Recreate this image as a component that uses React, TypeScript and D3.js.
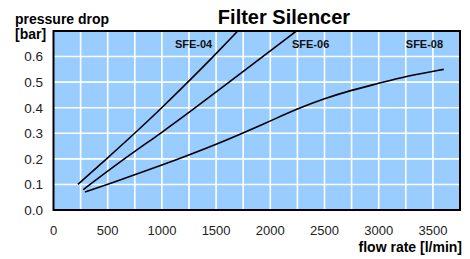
import React, { useEffect, useRef } from 'react';
import * as d3 from 'd3';

// flow rate [l/min] vs pressure drop [bar]
const sfe04: [number, number][] = [[225, 0.1], [490, 0.2], [750, 0.3], [1000, 0.4], [1240, 0.5], [1474, 0.6], [1700, 0.7]];
const sfe06: [number, number][] = [[275, 0.08], [650, 0.2], [990, 0.3], [1310, 0.4], [1620, 0.5], [1930, 0.6], [2240, 0.7]];
const sfe08: [number, number][] = [[290, 0.07], [500, 0.1], [1000, 0.175], [1500, 0.255], [2000, 0.348], [2250, 0.396], [2500, 0.436], [2750, 0.469], [3000, 0.495], [3250, 0.523], [3600, 0.55]];

const seriesNames = ['SFE-04', 'SFE-06', 'SFE-08'];
const labelPos: [number, number][] = [[1120, 0.635], [2200, 0.635], [3250, 0.635]];
const xTicks = [0, 500, 1000, 1500, 2000, 2500, 3000, 3500];
const yTicks = [0, 0.1, 0.2, 0.3, 0.4, 0.5, 0.6];

const App: React.FC = () => {
  const svgRef = useRef<SVGSVGElement>(null);

  useEffect(() => {
    if (!svgRef.current) return;
    const svg = d3.select(svgRef.current);
    svg.selectAll("*").remove();

    const x = d3.scaleLinear().domain([0, 3750]).range([53.5, 460]);
    const y = d3.scaleLinear().domain([0, 0.7]).range([210, 31]);
    const font = "Liberation Sans, Arial, Helvetica, sans-serif";

    svg.append("rect")
      .attr("x", x(0)).attr("y", y(0.7))
      .attr("width", x(3750) - x(0)).attr("height", y(0) - y(0.7))
      .attr("fill", "#99ccff");

    // grid
    svg.append("g").selectAll("line")
      .data(d3.range(250, 3750, 250))
      .enter().append("line")
      .attr("x1", d => x(d)).attr("x2", d => x(d))
      .attr("y1", y(0)).attr("y2", y(0.7))
      .attr("stroke", "#fff").attr("stroke-width", 1.6);
    svg.append("g").selectAll("line")
      .data(yTicks.slice(1))
      .enter().append("line")
      .attr("x1", x(0)).attr("x2", x(3750))
      .attr("y1", d => y(d)).attr("y2", d => y(d))
      .attr("stroke", "#fff").attr("stroke-width", 1.6);

    svg.append("rect")
      .attr("x", x(0)).attr("y", y(0.7))
      .attr("width", x(3750) - x(0)).attr("height", y(0) - y(0.7))
      .attr("fill", "none").attr("stroke", "#000").attr("stroke-width", 2);

    // curves
    const line = d3.line<[number, number]>()
      .x(d => x(d[0])).y(d => y(d[1]))
      .curve(d3.curveBasis);
    [sfe04, sfe06, sfe08].forEach(s => {
      svg.append("path")
        .attr("d", line(s))
        .attr("fill", "none")
        .attr("stroke", "#000")
        .attr("stroke-width", 1.6);
    });

    svg.append("g").selectAll("text")
      .data(seriesNames)
      .enter().append("text")
      .attr("x", (d, i) => x(labelPos[i][0]))
      .attr("y", (d, i) => y(labelPos[i][1]))
      .attr("font-family", font).attr("font-size", 11).attr("font-weight", "bold")
      .attr("fill", "#111")
      .text(d => d);

    // tick labels
    svg.append("g").selectAll("text")
      .data(yTicks)
      .enter().append("text")
      .attr("x", 43).attr("y", d => y(d)).attr("dy", "0.36em")
      .attr("text-anchor", "end")
      .attr("font-family", font).attr("font-size", 13.5).attr("fill", "#222")
      .text(d => d.toFixed(1));
    svg.append("g").selectAll("text")
      .data(xTicks)
      .enter().append("text")
      .attr("x", d => x(d)).attr("y", 235)
      .attr("text-anchor", "middle")
      .attr("font-family", font).attr("font-size", 13).attr("fill", "#222")
      .text(d => d);

    // titles
    svg.append("text")
      .attr("x", 284).attr("y", 24).attr("text-anchor", "middle")
      .attr("font-family", font).attr("font-size", 20).attr("font-weight", "bold")
      .text("Filter Silencer");
    svg.append("text")
      .attr("x", 15).attr("y", 24)
      .attr("font-family", font).attr("font-size", 14).attr("font-weight", "bold")
      .text("pressure drop");
    svg.append("text")
      .attr("x", 15).attr("y", 39)
      .attr("font-family", font).attr("font-size", 14).attr("font-weight", "bold")
      .text("[bar]");
    svg.append("text")
      .attr("x", 462).attr("y", 252).attr("text-anchor", "end")
      .attr("font-family", font).attr("font-size", 14).attr("font-weight", "bold")
      .text("flow rate [l/min]");
  }, []);

  return (
    <svg ref={svgRef} width={470} height={259}
      style={{ position: 'absolute', left: 0, top: 0, background: '#fff' }} />
  );
};

export default App;
